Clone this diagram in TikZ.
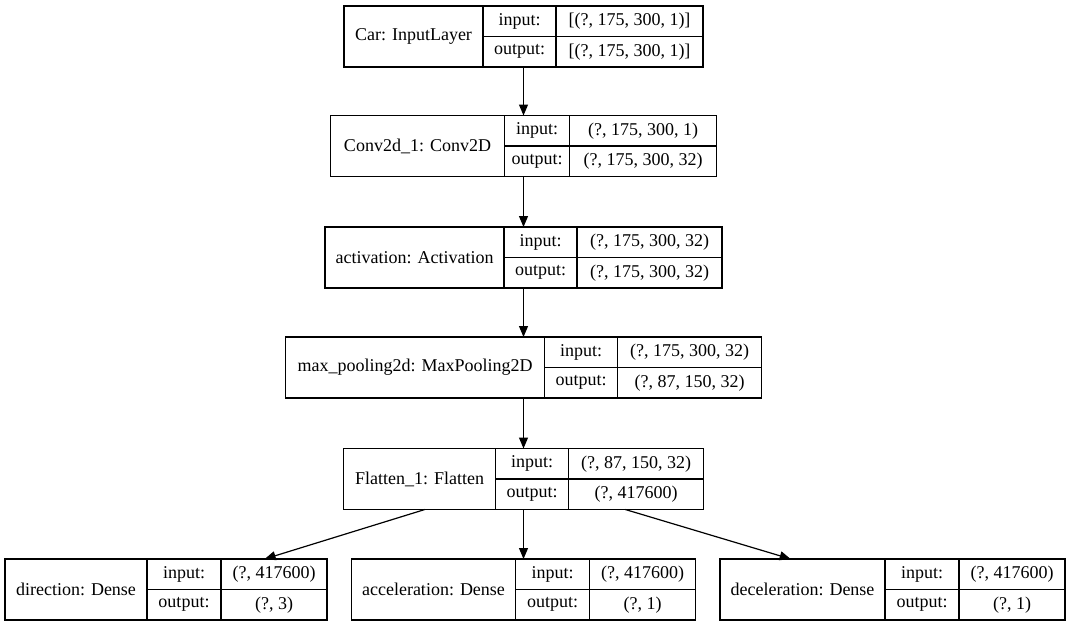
\documentclass[tikz,border=0pt]{standalone}
\usepackage{fontspec}
\setmainfont{Liberation Serif}
\usetikzlibrary{arrows.meta,positioning}

\begin{document}
\begin{tikzpicture}[x=1pt, y=-1pt,
    record/.style={rectangle, inner sep=0pt, outer sep=0pt, minimum height=61pt},
    cell/.style={rectangle, draw, line width=1.2pt, inner sep=0pt, outer sep=0pt, anchor=north west, align=center, font=\fontsize{18pt}{21pt}\selectfont},
    full/.style={cell, minimum height=61pt},
    half/.style={cell, minimum height=30.5pt},
    link/.style={-{Triangle[length=11pt,width=9pt]}, line width=1.2pt}]
    \useasboundingbox (0,0) rectangle (1071,627);

    \node (car) [record, minimum width=359pt] at (523.5,36.5) {};
    \node (carlbl) [full, minimum width=139pt] at (car.north west) {Car: InputLayer};
    \node (carin) [half, minimum width=73pt] at (carlbl.north east) {input:};
    \node (carout) [half, minimum width=73pt] at (carin.south west) {output:};
    \node (carinval) [half, minimum width=147pt] at (carin.north east) {[(?, 175, 300, 1)]};
    \node (caroutval) [half, minimum width=147pt] at (carout.north east) {[(?, 175, 300, 1)]};

    \node (conv) [record, minimum width=386pt] at (523.5,146) {};
    \node (convlbl) [full, minimum width=174pt] at (conv.north west) {Conv2d\_1: Conv2D};
    \node (convin) [half, minimum width=65pt] at (convlbl.north east) {input:};
    \node (convout) [half, minimum width=65pt] at (convin.south west) {output:};
    \node (convinval) [half, minimum width=147pt] at (convin.north east) {(?, 175, 300, 1)};
    \node (convoutval) [half, minimum width=147pt] at (convout.north east) {(?, 175, 300, 32)};

    \node (act) [record, minimum width=397pt] at (523.5,257.5) {};
    \node (actlbl) [full, minimum width=179pt] at (act.north west) {activation: Activation};
    \node (actin) [half, minimum width=73pt] at (actlbl.north east) {input:};
    \node (actout) [half, minimum width=73pt] at (actin.south west) {output:};
    \node (actinval) [half, minimum width=145pt] at (actin.north east) {(?, 175, 300, 32)};
    \node (actoutval) [half, minimum width=145pt] at (actout.north east) {(?, 175, 300, 32)};

    \node (pool) [record, minimum width=476pt] at (523.5,367.5) {};
    \node (poollbl) [full, minimum width=259pt] at (pool.north west) {max\_pooling2d: MaxPooling2D};
    \node (poolin) [half, minimum width=73pt] at (poollbl.north east) {input:};
    \node (poolout) [half, minimum width=73pt] at (poolin.south west) {output:};
    \node (poolinval) [half, minimum width=144pt] at (poolin.north east) {(?, 175, 300, 32)};
    \node (pooloutval) [half, minimum width=144pt] at (poolout.north east) {(?, 87, 150, 32)};

    \node (flat) [record, minimum width=360pt] at (523.5,479) {};
    \node (flatlbl) [full, minimum width=152pt] at (flat.north west) {Flatten\_1: Flatten};
    \node (flatin) [half, minimum width=73pt] at (flatlbl.north east) {input:};
    \node (flatout) [half, minimum width=73pt] at (flatin.south west) {output:};
    \node (flatinval) [half, minimum width=135pt] at (flatin.north east) {(?, 87, 150, 32)};
    \node (flatoutval) [half, minimum width=135pt] at (flatout.north east) {(?, 417600)};

    \node (dir) [record, minimum width=322pt] at (166,589.5) {};
    \node (dirlbl) [full, minimum width=142pt] at (dir.north west) {direction: Dense};
    \node (dirin) [half, minimum width=74pt] at (dirlbl.north east) {input:};
    \node (dirout) [half, minimum width=74pt] at (dirin.south west) {output:};
    \node (dirinval) [half, minimum width=106pt] at (dirin.north east) {(?, 417600)};
    \node (diroutval) [half, minimum width=106pt] at (dirout.north east) {(?, 3)};

    \node (acc) [record, minimum width=344pt] at (523.5,589.5) {};
    \node (acclbl) [full, minimum width=164pt] at (acc.north west) {acceleration: Dense};
    \node (accin) [half, minimum width=74pt] at (acclbl.north east) {input:};
    \node (accout) [half, minimum width=74pt] at (accin.south west) {output:};
    \node (accinval) [half, minimum width=106pt] at (accin.north east) {(?, 417600)};
    \node (accoutval) [half, minimum width=106pt] at (accout.north east) {(?, 1)};

    \node (dec) [record, minimum width=345pt] at (892.5,589.5) {};
    \node (declbl) [full, minimum width=165pt] at (dec.north west) {deceleration: Dense};
    \node (decin) [half, minimum width=74pt] at (declbl.north east) {input:};
    \node (decout) [half, minimum width=74pt] at (decin.south west) {output:};
    \node (decinval) [half, minimum width=106pt] at (decin.north east) {(?, 417600)};
    \node (decoutval) [half, minimum width=106pt] at (decout.north east) {(?, 1)};

    \draw[link] (car) -- (conv);
    \draw[link] (conv) -- (act);
    \draw[link] (act) -- (pool);
    \draw[link] (pool) -- (flat);
    \draw[link] (flat) -- (dir);
    \draw[link] (flat) -- (acc);
    \draw[link] (flat) -- (dec);
\end{tikzpicture}
\end{document}
